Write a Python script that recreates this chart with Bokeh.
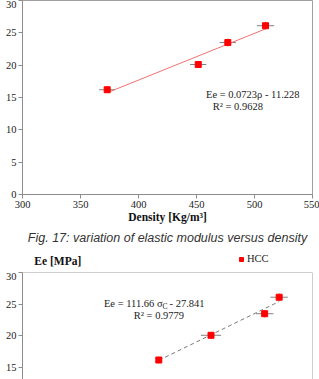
from bokeh.plotting import figure
from bokeh.models import (Label, Span, Title, Legend, LegendItem, FixedTicker)
from bokeh.layouts import column
from bokeh.embed import file_html
from bokeh.resources import INLINE
import numpy as np

# ---- data -------------------------------------------------------------
density = [373.0, 451.5, 477.0, 509.5]          # kg/m3
density_err = [7.0, 7.0, 7.0, 7.5]
ee_modulus = [16.2, 20.1, 23.5, 26.1]           # MPa
ee_err = [0.5, 0.5, 0.6, 0.6]

sigma_c = [0.394, 0.430, 0.467, 0.477]          # compressive strength
sigma_err = [0.0, 0.007, 0.006, 0.006]

fit_rho = (0.0723, -11.228)
fit_sigma = (111.66, -27.841)

x_ticks = [300, 350, 400, 450, 500, 550]
y_ticks = [0, 5, 10, 15, 20, 25, 30]

SERIF = "Liberation Serif, Times New Roman, DejaVu Serif, serif"
AXIS_GREY = "#8c8c8c"
RED = "#ff0000"


def style_axes(p):
    for ax in (p.xaxis, p.yaxis):
        ax.axis_line_color = AXIS_GREY
        ax.major_tick_line_color = AXIS_GREY
        ax.major_tick_out = 4
        ax.major_tick_in = 0
        ax.minor_tick_line_color = None
        ax.major_label_text_font = SERIF
        ax.major_label_text_font_size = "10.5px"
        ax.major_label_text_color = "#222222"
        ax.major_label_standoff = 2
    p.xgrid.visible = False
    p.ygrid.visible = False


# ---- Ee versus density --------------------------------------------------
top = figure(width=319, height=247, x_range=(300, 550), y_range=(0, 30),
             output_backend="svg", toolbar_location=None,
             min_border_left=22, min_border_right=6, min_border_top=0,
             min_border_bottom=0)
style_axes(top)
top.outline_line_color = "#a0a0a0"
top.xaxis.ticker = FixedTicker(ticks=x_ticks)
top.yaxis.ticker = FixedTicker(ticks=y_ticks)
top.xaxis.axis_label = "Density [Kg/m³]"
top.xaxis.axis_label_text_font = SERIF
top.xaxis.axis_label_text_font_style = "bold"
top.xaxis.axis_label_text_font_size = "11.5px"
top.xaxis.axis_label_text_color = "#111111"
top.xaxis.axis_label_standoff = 0

d = np.array(density)
e = np.array(ee_modulus)
de = np.array(density_err)
ee_e = np.array(ee_err)
top.segment(d - de, e, d + de, e, line_color="#808080", line_width=1)
top.segment(d, e - ee_e, d, e + ee_e, line_color="#808080", line_width=1)
xf = np.array([d.min(), d.max()])
top.line(xf, fit_rho[0] * xf + fit_rho[1], line_color="#f27272", line_width=1)
top.scatter(d, e, marker="square", size=6, fill_color=RED, line_color=RED)

top.add_layout(Label(x=498.5, y=15.5, text="Ee = 0.0723ρ - 11.228",
                     text_font=SERIF, text_font_size="10.5px",
                     text_align="center", text_baseline="middle",
                     text_color="#222222"))
top.add_layout(Label(x=485.6, y=13.6, text="R² = 0.9628",
                     text_font=SERIF, text_font_size="10.5px",
                     text_align="center", text_baseline="middle",
                     text_color="#222222"))

caption = Title(text="Fig. 17: variation of elastic modulus versus density",
                align="center", text_font="Liberation Sans, Arial, sans-serif",
                text_font_style="italic", text_font_size="12.5px",
                text_color="#333333", standoff=6)
top.add_layout(caption, "below")

# ---- header strip of the second chart: axis title and legend ----------
head = figure(width=319, height=25, x_range=(0, 319), y_range=(0, 25),
              output_backend="svg", toolbar_location=None,
              min_border=0, outline_line_color=None)
head.axis.visible = False
head.xgrid.visible = False
head.ygrid.visible = False
head.add_layout(Label(x=13, y=12, text="Ee [MPa]", text_align="left",
                      text_font=SERIF, text_font_size="11.5px",
                      text_font_style="bold", text_color="#111111",
                      text_baseline="middle"))
# legend key: a marker kept outside the strip's visible range
key = head.scatter([-50], [-50], marker="square", size=6, fill_color=RED,
                   line_color=RED)
legend = Legend(items=[LegendItem(label="HCC", renderers=[key])],
                location=(214, 6), margin=0, padding=0, spacing=0,
                glyph_width=10, glyph_height=10, label_height=15,
                label_standoff=1, border_line_color=None,
                background_fill_alpha=0, label_text_font=SERIF,
                label_text_font_size="10.5px", label_text_color="#222222")
head.add_layout(legend, "center")

# ---- Ee versus compressive strength ----------------------------------
bot = figure(width=319, height=107, x_range=(0.3, 0.5), y_range=(13.125, 30),
             output_backend="svg", toolbar_location=None,
             min_border_left=22, min_border_right=7, min_border_top=0,
             min_border_bottom=0)
style_axes(bot)
bot.xaxis.visible = False
bot.outline_line_color = None
bot.yaxis.ticker = FixedTicker(ticks=y_ticks)
bot.add_layout(Span(location=30, dimension="width", line_color="#a0a0a0",
                    line_width=1))
bot.add_layout(Span(location=0.5, dimension="height", line_color="#a0a0a0",
                    line_width=1))

s = np.array(sigma_c)
se = np.array(sigma_err)
bot.segment(s - se, e, s + se, e, line_color="#808080", line_width=1)
bot.segment(s, e - ee_e, s, e + ee_e, line_color="#808080", line_width=1)
xs = np.array([s.min(), s.max()])
bot.line(xs, fit_sigma[0] * xs + fit_sigma[1], line_color="#7a7a7a",
         line_width=1, line_dash="4 3")
bot.scatter(s, e, marker="square", size=6, fill_color=RED, line_color=RED)

lbl = dict(text_font=SERIF, text_font_size="10.5px", text_color="#222222",
           text_baseline="middle")
bot.add_layout(Label(x=0.3966, y=25.1, text="Ee = 111.66 σ",
                     text_align="right", **lbl))
bot.add_layout(Label(x=0.3966, y=24.6, text="C", text_align="left",
                     text_font=SERIF, text_font_size="7.5px",
                     text_color="#222222", text_baseline="middle"))
bot.add_layout(Label(x=0.4014, y=25.1, text="- 27.841",
                     text_align="left", **lbl))
bot.add_layout(Label(x=0.3941, y=23.2, text="R² = 0.9779",
                     text_align="center", **lbl))

layout = column(top, head, bot, spacing=0)
open("out.html", "w").write(file_html(layout, INLINE))
